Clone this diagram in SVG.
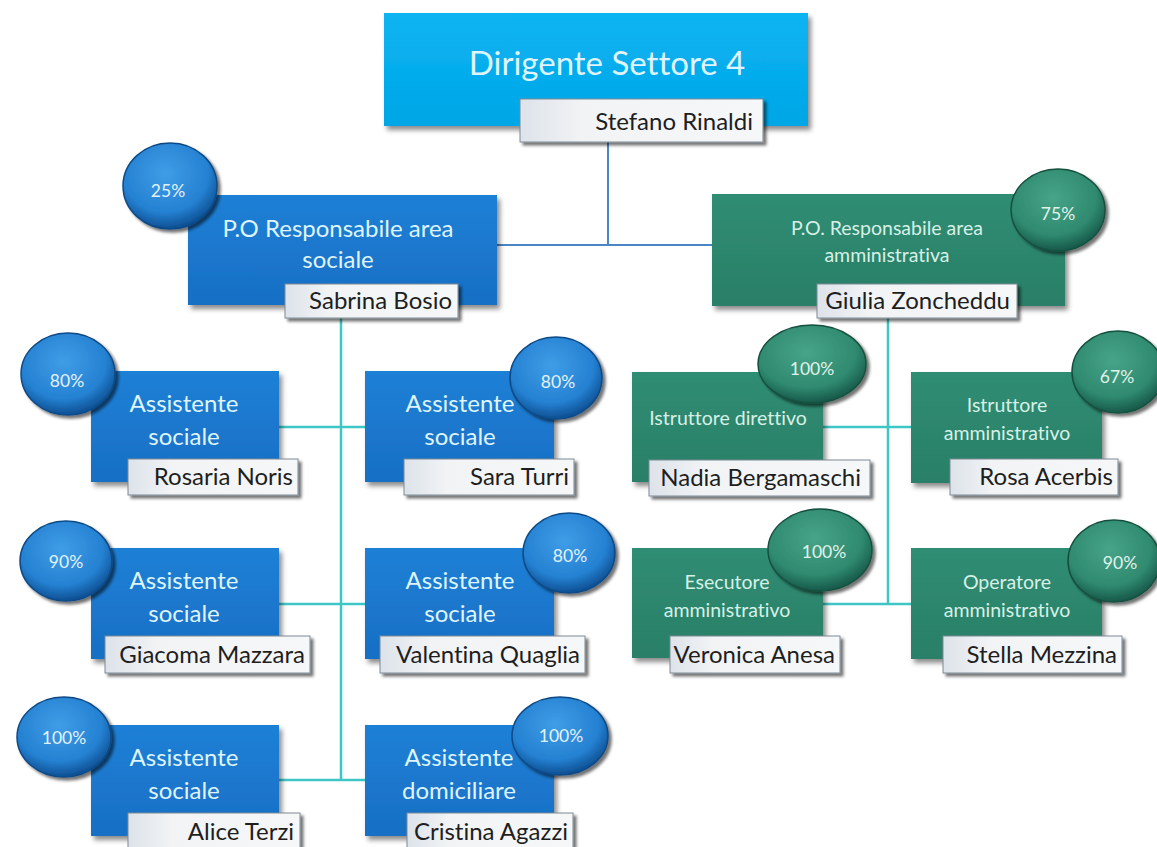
<svg xmlns="http://www.w3.org/2000/svg" width="1157" height="847" viewBox="0 0 1157 847">
<defs>
<filter id="sh" x="-10%" y="-10%" width="130%" height="140%">
<feDropShadow dx="3" dy="4" stdDeviation="2.5" flood-color="#000" flood-opacity="0.45"/>
</filter>
<filter id="shs" x="-10%" y="-10%" width="130%" height="150%">
<feDropShadow dx="3" dy="3" stdDeviation="1.5" flood-color="#000" flood-opacity="0.55"/>
</filter>
<linearGradient id="gTop" x1="0" y1="0" x2="0" y2="1">
<stop offset="0" stop-color="#0cb4f2"/><stop offset="1" stop-color="#00a6e6"/>
</linearGradient>
<linearGradient id="gBlue" x1="0" y1="0" x2="0" y2="1">
<stop offset="0" stop-color="#1f80d6"/><stop offset="1" stop-color="#176fc4"/>
</linearGradient>
<linearGradient id="gGreen" x1="0" y1="0" x2="0" y2="1">
<stop offset="0" stop-color="#2f8d73"/><stop offset="1" stop-color="#2a7f67"/>
</linearGradient>
<linearGradient id="gTag" x1="0" y1="0" x2="1" y2="0">
<stop offset="0" stop-color="#dde3ea"/><stop offset="0.25" stop-color="#f1f3f5"/><stop offset="1" stop-color="#f6f7f8"/>
</linearGradient>
<radialGradient id="cBlue" cx="0.45" cy="0.35" r="0.65">
<stop offset="0" stop-color="#3f9de6"/><stop offset="0.7" stop-color="#2581d2"/><stop offset="1" stop-color="#0d4f92"/>
</radialGradient>
<radialGradient id="cGreen" cx="0.45" cy="0.35" r="0.65">
<stop offset="0" stop-color="#47a488"/><stop offset="0.7" stop-color="#2f8a6f"/><stop offset="1" stop-color="#17584a"/>
</radialGradient>
<style>
.top{fill:url(#gTop);filter:url(#sh)}
.bb{fill:url(#gBlue);filter:url(#sh)}
.gb{fill:url(#gGreen);filter:url(#sh)}
.tag{fill:url(#gTag);stroke:#7f8a94;stroke-width:1;filter:url(#shs)}
.cb{fill:url(#cBlue);stroke:#0f4a86;stroke-width:1.5;filter:url(#shs)}
.cg{fill:url(#cGreen);stroke:#16503f;stroke-width:1.5;filter:url(#shs)}
text{font-family:Lato,"Open Sans","Liberation Sans",sans-serif;font-variant-ligatures:none}
.tt{fill:#dff4fc;font-size:24px;text-anchor:middle}
.tg{fill:#d6f0e6;font-size:19.5px;text-anchor:middle}
.nm{fill:#1e1e1e;font-size:24px;text-anchor:end}
.pc{fill:#e2f2fb;font-size:17.5px;text-anchor:middle}
.pg{fill:#e0f2ea;font-size:17.5px;text-anchor:middle}
.c1{stroke:#4a86c6;stroke-width:2;fill:none}
.c2{stroke:#3ec6c6;stroke-width:2.5;fill:none}
</style>
</defs>
<rect width="1157" height="847" fill="#ffffff"/>

<g id="connectors">
<path class="c1" d="M608 142 V245 M497 245 H712"/>
<path class="c2" d="M341 318 V780 M279 427 H365 M279 604 H365 M279 780 H365"/>
<path class="c2" d="M888 318 V604 M823 427 H911 M823 604 H911"/>
</g>

<g id="dirigente">
<rect class="top" x="384" y="13" width="424" height="113"/>
<text x="607" y="75" fill="#dff4fc" font-size="33" text-anchor="middle">Dirigente Settore 4</text>
<rect class="tag" x="520" y="99" width="243" height="43"/>
<text class="nm" x="753" y="130" font-size="27">Stefano Rinaldi</text>
</g>

<g id="po-sociale">
<rect class="bb" x="188" y="195" width="309" height="110"/>
<text class="tt" x="338" y="237">P.O Responsabile area</text>
<text class="tt" x="338" y="268">sociale</text>
<ellipse class="cb" cx="170" cy="186" rx="47" ry="43"/>
<text class="pc" x="168" y="197">25%</text>
<rect class="tag" x="285" y="284" width="173" height="34"/>
<text class="nm" x="452" y="309">Sabrina Bosio</text>
</g>

<g id="po-amministrativa">
<rect class="gb" x="712" y="194" width="353" height="112"/>
<text class="tg" x="887" y="235">P.O. Responsabile area</text>
<text class="tg" x="887" y="262">amministrativa</text>
<ellipse class="cg" cx="1058" cy="210" rx="47" ry="41"/>
<text class="pg" x="1058" y="220">75%</text>
<rect class="tag" x="817" y="284" width="200" height="34"/>
<text class="nm" x="1010" y="309">Giulia Zoncheddu</text>
</g>

<g id="rosaria">
<rect class="bb" x="91" y="371" width="188" height="111"/>
<text class="tt" x="184" y="412">Assistente</text>
<text class="tt" x="184" y="445">sociale</text>
<ellipse class="cb" cx="68" cy="374" rx="47" ry="41"/>
<text class="pc" x="67" y="387">80%</text>
<rect class="tag" x="128" y="459" width="170" height="36"/>
<text class="nm" x="293" y="485">Rosaria Noris</text>
</g>

<g id="sara">
<rect class="bb" x="365" y="371" width="189" height="111"/>
<text class="tt" x="460" y="412">Assistente</text>
<text class="tt" x="460" y="445">sociale</text>
<ellipse class="cb" cx="556" cy="378" rx="46" ry="41"/>
<text class="pc" x="558" y="388">80%</text>
<rect class="tag" x="404" y="459" width="170" height="36"/>
<text class="nm" x="569" y="485">Sara Turri</text>
</g>

<g id="giacoma">
<rect class="bb" x="91" y="548" width="188" height="111"/>
<text class="tt" x="184" y="589">Assistente</text>
<text class="tt" x="184" y="622">sociale</text>
<ellipse class="cb" cx="66" cy="561" rx="46" ry="40"/>
<text class="pc" x="66" y="568">90%</text>
<rect class="tag" x="105" y="636" width="205" height="37"/>
<text class="nm" x="305" y="663">Giacoma Mazzara</text>
</g>

<g id="valentina">
<rect class="bb" x="365" y="548" width="189" height="111"/>
<text class="tt" x="460" y="589">Assistente</text>
<text class="tt" x="460" y="622">sociale</text>
<ellipse class="cb" cx="569" cy="553" rx="46" ry="40"/>
<text class="pc" x="570" y="562">80%</text>
<rect class="tag" x="380" y="636" width="205" height="37"/>
<text class="nm" x="580" y="663">Valentina Quaglia</text>
</g>

<g id="alice">
<rect class="bb" x="91" y="725" width="188" height="111"/>
<text class="tt" x="184" y="766">Assistente</text>
<text class="tt" x="184" y="799">sociale</text>
<ellipse class="cb" cx="64" cy="737" rx="47" ry="40"/>
<text class="pc" x="64" y="744">100%</text>
<rect class="tag" x="128" y="813" width="172" height="38"/>
<text class="nm" x="294" y="840">Alice Terzi</text>
</g>

<g id="cristina">
<rect class="bb" x="365" y="725" width="189" height="111"/>
<text class="tt" x="459" y="766">Assistente</text>
<text class="tt" x="459" y="799">domiciliare</text>
<ellipse class="cb" cx="560" cy="736" rx="48" ry="39"/>
<text class="pc" x="561" y="742">100%</text>
<rect class="tag" x="407" y="813" width="166" height="38"/>
<text class="nm" x="568" y="840">Cristina Agazzi</text>
</g>

<g id="nadia">
<rect class="gb" x="632" y="372" width="191" height="110"/>
<text class="tg" x="728" y="425">Istruttore direttivo</text>
<ellipse class="cg" cx="812" cy="364" rx="54" ry="39"/>
<text class="pg" x="812" y="375">100%</text>
<rect class="tag" x="649" y="460" width="221" height="36"/>
<text class="nm" x="861" y="486">Nadia Bergamaschi</text>
</g>

<g id="rosa">
<rect class="gb" x="911" y="372" width="191" height="111"/>
<text class="tg" x="1007" y="412">Istruttore</text>
<text class="tg" x="1007" y="440">amministrativo</text>
<ellipse class="cg" cx="1118" cy="372" rx="46" ry="41"/>
<text class="pg" x="1117" y="383">67%</text>
<rect class="tag" x="950" y="459" width="168" height="36"/>
<text class="nm" x="1113" y="485">Rosa Acerbis</text>
</g>

<g id="veronica">
<rect class="gb" x="632" y="548" width="191" height="110"/>
<text class="tg" x="727" y="589">Esecutore</text>
<text class="tg" x="727" y="617">amministrativo</text>
<ellipse class="cg" cx="820" cy="550" rx="52" ry="41"/>
<text class="pg" x="824" y="558">100%</text>
<rect class="tag" x="670" y="636" width="170" height="37"/>
<text class="nm" x="835" y="663">Veronica Anesa</text>
</g>

<g id="stella">
<rect class="gb" x="911" y="548" width="191" height="111"/>
<text class="tg" x="1007" y="589">Operatore</text>
<text class="tg" x="1007" y="617">amministrativo</text>
<ellipse class="cg" cx="1114" cy="561" rx="46" ry="41"/>
<text class="pg" x="1120" y="569">90%</text>
<rect class="tag" x="943" y="636" width="179" height="37"/>
<text class="nm" x="1117" y="663">Stella Mezzina</text>
</g>
</svg>
